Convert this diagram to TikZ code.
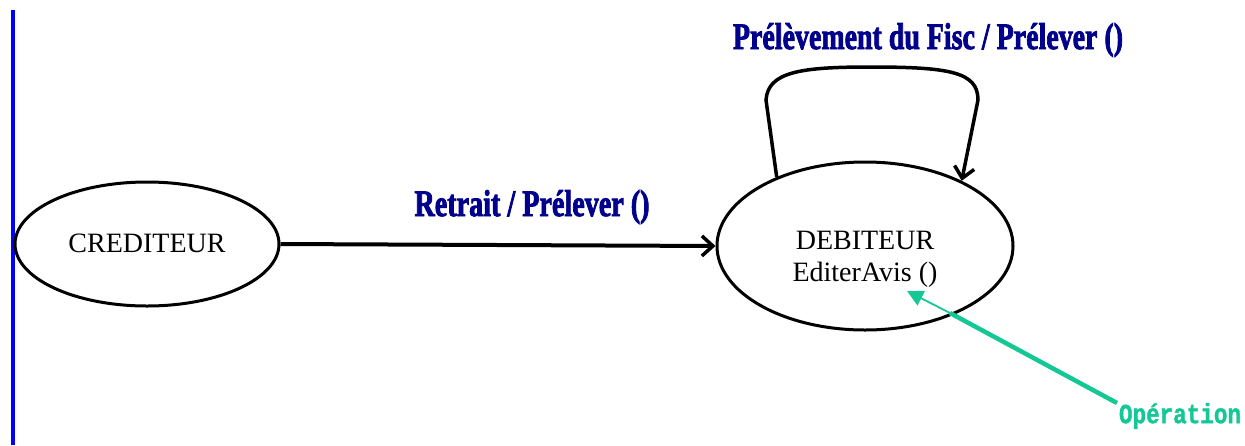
\documentclass[tikz,border=0pt]{standalone}
\usepackage{fontspec}
\usepackage{graphicx}
\setmainfont{Liberation Serif}
\newfontfamily\monofnt{Liberation Mono}
\newfontfamily\heavyfnt[FakeBold=2.5]{Liberation Serif Bold}
\newfontfamily\heavymono[FakeBold=1.5]{Liberation Mono Bold}
\usetikzlibrary{shapes.geometric,arrows.meta}
\definecolor{navy}{RGB}{0,0,140}
\definecolor{opgreen}{RGB}{20,200,150}
\definecolor{barblue}{RGB}{0,0,255}
\tikzset{
  state/.style={ellipse,draw,line width=3pt,inner sep=0pt},
  stxt/.style={inner sep=0pt,font=\fontsize{28}{32}\selectfont,align=center},
  trans/.style={line width=4pt,-{Straight Barb[length=11pt,width=20pt,line width=3.5pt]}},
  lbl/.style={text=navy,inner sep=0pt},
}
\begin{document}
\begin{tikzpicture}[x=1pt,y=-1pt]
\useasboundingbox (0,0) rectangle (1245,445);
\draw[barblue,line width=4pt] (13,10) -- (13,445);
\node[state,minimum width=264pt,minimum height=124pt] (cred) at (147,244) {};
\node[stxt] (credtxt) at (147,243) {CREDITEUR};
\node[state,minimum width=296pt,minimum height=168pt] (deb) at (865,246) {};
\node[stxt] (debtxt) at (865,259) {DEBITEUR\\EditerAvis ()};
\draw[trans] (cred.east) -- (deb.west);
\node[lbl] (lret) at (532,207) {\resizebox{235pt}{26pt}{\heavyfnt Retrait / Prélever ()}};
\draw[trans,line width=3.5pt] (deb.142) -- (766,100) .. controls (768,72) and (800,67) .. (870,67)
  .. controls (950,67) and (978,72) .. (978,100) -- (deb.34);
\node[lbl] (lfisc) at (928,40) {\resizebox{390pt}{26pt}{\heavyfnt Prélèvement du Fisc / Prélever ()}};
\node[text=opgreen,inner sep=0pt] (op) at (1180,416) {\resizebox{122pt}{20pt}{\heavymono Opération}};
\coordinate (gstart) at (1117,403);
\coordinate (gmid) at (950,313);
\coordinate (gtip) at (907,291);
\draw[opgreen,line width=4.5pt] (gstart) -- (gmid);
\draw[opgreen,line width=1.8pt,-{Triangle[length=16pt,width=16pt]}] (gmid) -- (gtip);
\end{tikzpicture}
\end{document}
